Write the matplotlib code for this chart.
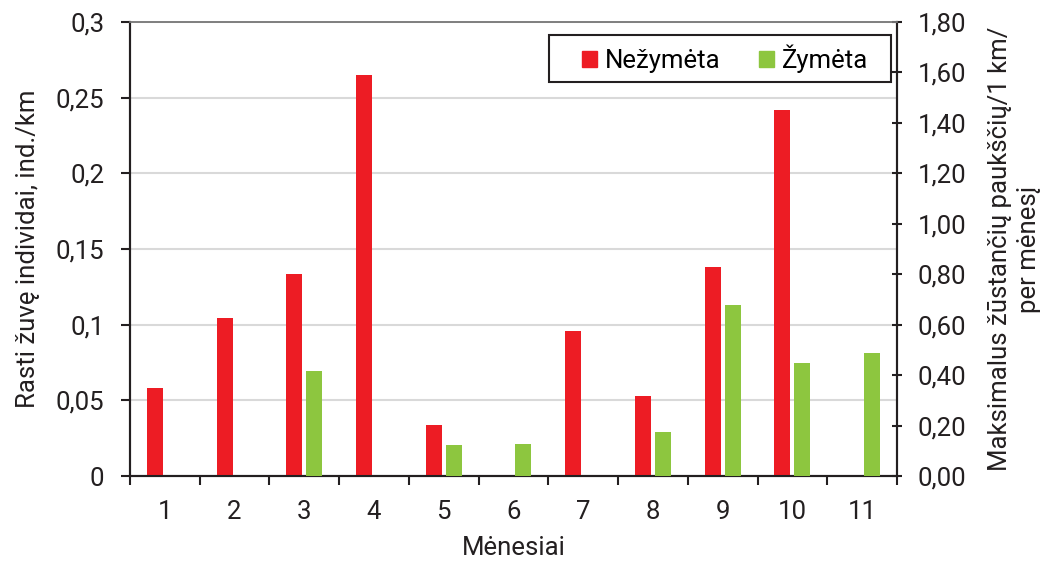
import numpy as np
import matplotlib
matplotlib.use("Agg")
import matplotlib.pyplot as plt
from matplotlib.patches import Patch, Rectangle

plt.rcParams['font.family'] = ['Roboto', 'DejaVu Sans']

months = ['1', '2', '3', '4', '5', '6', '7', '8', '9', '10', '11']
# left axis (ind./km)
nezymeta = [0.0584, 0.1042, 0.1335, 0.2650, 0.0334, 0.0, 0.0956, 0.0531, 0.1380, 0.2420, 0.0]
# right axis (paukščių/1 km per mėnesį)
zymeta = [0.0, 0.0, 0.417, 0.0, 0.123, 0.125, 0.0, 0.175, 0.677, 0.447, 0.489]
left_ticks = ['0', '0,05', '0,1', '0,15', '0,2', '0,25', '0,3']
right_ticks = ['0,00', '0,20', '0,40', '0,60', '0,80', '1,00', '1,20', '1,40', '1,60', '1,80']

red = '#ED1C24'
green = '#8DC63F'
txt = '#231F20'
fs = 18.5

fig = plt.figure(figsize=(10.49, 5.64), dpi=100)
ax = fig.add_axes([0.1239, 0.156, 0.7312, 0.805])
ax2 = ax.twinx()

x = np.arange(len(months))
w = 0.23
off = 0.143
ax.bar(x - off, nezymeta, width=w, color=red, zorder=3)
ax2.bar(x + off, zymeta, width=w, color=green, zorder=3)

ax.set_xlim(-0.5, len(months) - 0.5)
ax.set_ylim(0, 0.3)
ax2.set_ylim(0, 1.8)

ax.set_yticks(np.linspace(0, 0.3, len(left_ticks)))
ax.set_yticklabels(left_ticks)
ax2.set_yticks(np.linspace(0, 1.8, len(right_ticks)))
ax2.set_yticklabels(right_ticks)

ax.set_xticks(x)
ax.set_xticklabels(months)
ax.set_xticks(np.arange(-0.5, len(months), 1), minor=True)
ax.tick_params(axis='x', which='major', length=0, pad=17, labelsize=fs, colors=txt)
ax.tick_params(axis='x', which='minor', length=6.5, width=1.5, direction='out', color=txt)
ax.tick_params(axis='y', length=6.5, width=1.5, direction='out', labelsize=fs, colors=txt, pad=12)
ax2.tick_params(axis='y', length=7.5, width=1.5, direction='inout', labelsize=fs, colors=txt, pad=11)

ax.yaxis.grid(True, color='#D9D9D9', linewidth=1.5, zorder=0)
ax.set_axisbelow(True)

for a in (ax, ax2):
    for s in ('left', 'bottom', 'right'):
        a.spines[s].set_color(txt)
        a.spines[s].set_linewidth(1.5)
    a.spines['top'].set_color('#7F7F7F')
    a.spines['top'].set_linewidth(1.2)

ax.set_xlabel('Mėnesiai', fontsize=fs, color=txt, labelpad=9)
ax.set_ylabel('Rasti žuvę individai, ind./km', fontsize=fs, color=txt, labelpad=11)
ax2.set_ylabel('Maksimalus žūstančių paukščių/1 km/\nper mėnesį', fontsize=fs, color=txt,
               labelpad=16, linespacing=1.25)

# legend box (frame drawn separately so it can be wider than the entries)
ax2.add_patch(Rectangle((0.546, 0.868), 0.446, 0.103, transform=ax2.transAxes,
                        facecolor='white', edgecolor=txt, linewidth=1.5, zorder=5))
handles = [Patch(color=red, label='Nežymėta'), Patch(color=green, label='Žymėta')]
leg = ax2.legend(handles=handles, loc='center left', bbox_to_anchor=(0.589, 0.9196), ncol=2,
                 fontsize=fs, frameon=False,
                 handlelength=0.6, handleheight=0.6, handletextpad=0.3, columnspacing=1.5,
                 borderpad=0, borderaxespad=0)
leg.set_zorder(6)

plt.savefig('out.png', dpi=100)
